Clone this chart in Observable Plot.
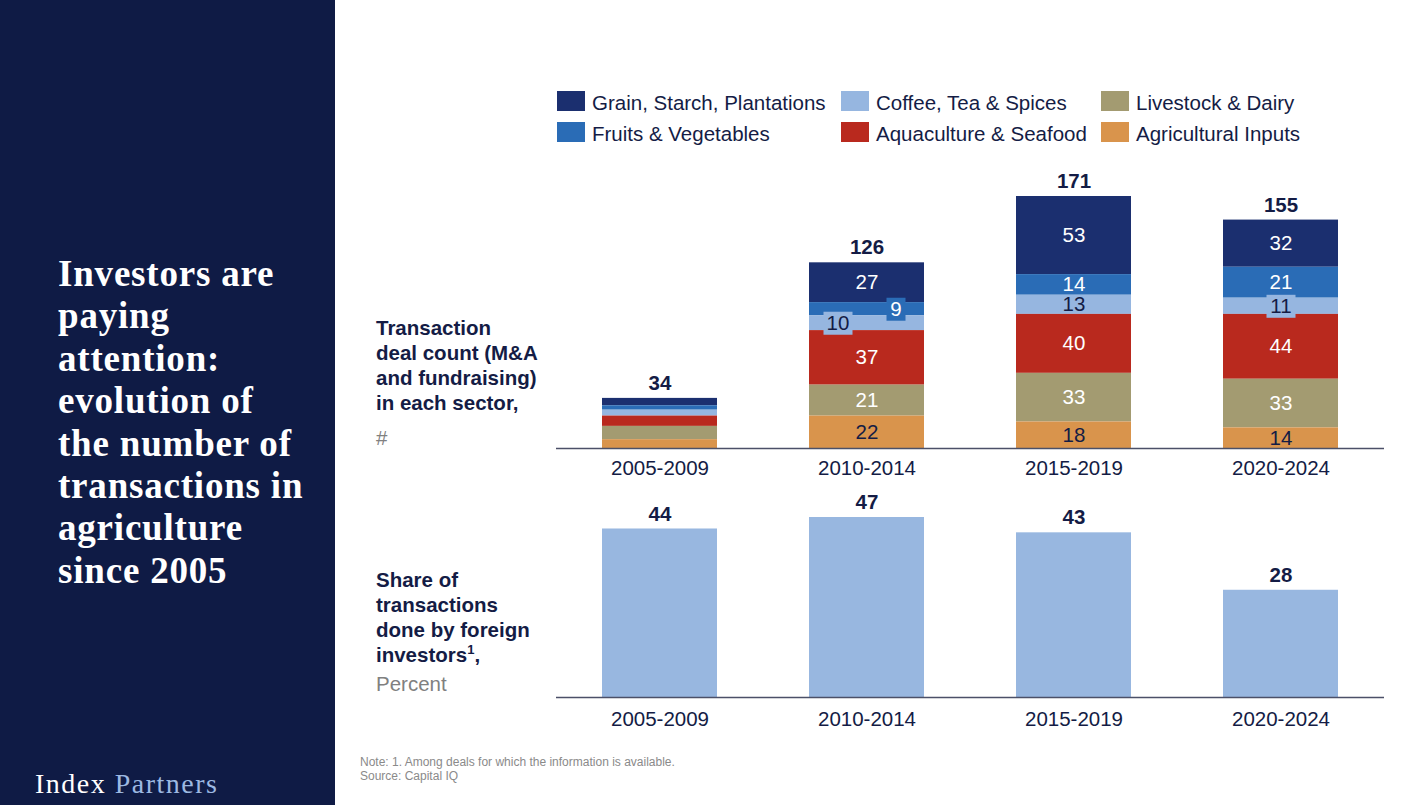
<!DOCTYPE html>
<html>
<head>
<meta charset="utf-8">
<script src="https://cdn.jsdelivr.net/npm/d3@7"></script>
<script src="https://cdn.jsdelivr.net/npm/@observablehq/plot@0.6"></script>
<style>
  html, body { margin: 0; padding: 0; }
  body {
    width: 1428px; height: 805px; position: relative; overflow: hidden; background: #fff;
    font-family: "Liberation Sans", Arial, sans-serif; color: #141c45;
  }
  #panel { position: absolute; left: 0; top: 0; width: 335px; height: 805px; background: #0f1b45; }
  #title {
    position: absolute; left: 58px; top: 253px; margin: 0; white-space: nowrap;
    font-family: "Liberation Serif", serif; font-weight: 700; font-size: 37px;
    line-height: 42.4px; letter-spacing: 0.8px; color: #fff;
  }
  #brand {
    position: absolute; left: 35px; top: 769px; white-space: nowrap;
    font-family: "Liberation Serif", serif; font-size: 28px; line-height: 30px;
    letter-spacing: 1.5px; color: #fff;
  }
  #brand span { color: #9db9e2; }
  .side { position: absolute; left: 376px; font-size: 20.5px; line-height: 25px; font-weight: 700; white-space: nowrap; }
  .side .unit { font-weight: 400; color: #808080; }
  .side sup { font-size: 13px; line-height: 0; vertical-align: 8px; }
  .legend-item { position: absolute; height: 20px; white-space: nowrap; }
  .legend-item .sw { position: absolute; left: 0; top: 0; width: 28px; height: 20px; }
  .legend-item .lb { position: absolute; left: 35px; top: 0px; font-size: 20.5px; line-height: 24px; }
  .chart { position: absolute; left: 556px; }
  #note { position: absolute; left: 360px; top: 755px; font-size: 12px; line-height: 14px; color: #8a8a8a; white-space: nowrap; }
</style>
</head>
<body>
<div id="panel"></div>
<h1 id="title">Investors are<br>paying<br>attention:<br>evolution of<br>the number of<br>transactions in<br>agriculture<br>since 2005</h1>
<div id="brand">Index <span>Partners</span></div>

<div id="legend"></div>

<div class="side" style="top:315px">Transaction<br>deal count (M&amp;A<br>and fundraising)<br>in each sector,<div class="unit" style="margin-top:10px">#</div></div>
<div class="side" style="top:567px">Share of<br>transactions<br>done by foreign<br>investors<sup>1</sup>,<div class="unit" style="margin-top:4px">Percent</div></div>

<div id="deals" class="chart" style="top:160px"></div>
<div id="foreign" class="chart" style="top:487px"></div>

<div id="note">Note: 1. Among deals for which the information is available.<br>Source: Capital IQ</div>

<script>
// Periods and sectors
const periods = ["2005-2009", "2010-2014", "2015-2019", "2020-2024"];
const sectors = [
  "Grain, Starch, Plantations",
  "Fruits & Vegetables",
  "Coffee, Tea & Spices",
  "Aquaculture & Seafood",
  "Livestock & Dairy",
  "Agricultural Inputs"
];

// Deal counts per sector, one value per period
const grain     = [5, 27, 53, 32];
const fruits    = [3, 9, 14, 21];
const coffee    = [4, 10, 13, 11];
const aqua      = [7, 37, 40, 44];
const livestock = [9, 21, 33, 33];
const inputs    = [6, 22, 18, 14];

// Share of transactions done by foreign investors, percent
const foreignShare = [44, 47, 43, 28];

const sectorValues = [grain, fruits, coffee, aqua, livestock, inputs];
const sectorColors = ["#1b2f6f", "#2a6cb6", "#96b6e0", "#b9291e", "#a39b71", "#d9944c"];
const darkText = "#141c45";
const darkLabelSectors = new Set(["Coffee, Tea & Spices", "Agricultural Inputs"]);
const unlabelledPeriods = new Set(["2005-2009"]);

// Legend, filled column by column
const legend = document.getElementById("legend");
const legendCols = [557, 841, 1101], legendRows = [91, 122];
sectors.forEach((s, i) => {
  const item = document.createElement("div");
  item.className = "legend-item";
  item.style.left = legendCols[Math.floor(i / 2)] + "px";
  item.style.top = legendRows[i % 2] + "px";
  item.innerHTML = `<div class="sw" style="background:${sectorColors[i]}"></div><div class="lb"></div>`;
  item.querySelector(".lb").textContent = s;
  legend.appendChild(item);
});

// Long table for the stacked bars
const rows = [];
sectors.forEach((s, si) => periods.forEach((p, pi) => rows.push({period: p, sector: s, value: sectorValues[si][pi]})));
const stackOrder = sectors.slice().reverse(); // bottom of the stack first
const totals = periods.map((p, pi) => ({period: p, total: d3.sum(sectorValues, v => v[pi])}));

// Segment midpoints for the in-bar labels
const segs = [];
periods.forEach((p, pi) => {
  let base = 0;
  stackOrder.forEach(s => {
    const v = sectorValues[sectors.indexOf(s)][pi];
    segs.push({period: p, sector: s, value: v, mid: base + v / 2});
    base += v;
  });
});

// Small segments whose labels sit on a tag of the segment colour
const callouts = [
  {period: "2010-2014", sector: "Coffee, Tea & Spices", dx: -29},
  {period: "2010-2014", sector: "Fruits & Vegetables", dx: 29},
  {period: "2020-2024", sector: "Coffee, Tea & Spices", dx: 0}
];
const isCallout = d => callouts.some(c => c.period === d.period && c.sector === d.sector);
const plain = segs.filter(d => !unlabelledPeriods.has(d.period) && !isCallout(d));

const tag = (w, h) => ({draw(ctx) { ctx.rect(-w / 2, -h / 2, w, h); }});

const font = {fontFamily: "Liberation Sans, Arial, sans-serif", fontSize: 20.5};
const xScale = {domain: periods, paddingInner: 0.444, paddingOuter: 0.222};
const axisColor = "#4b5068";

const calloutMarks = callouts.flatMap(c => {
  const d = segs.filter(s => s.period === c.period && s.sector === c.sector);
  const label = String(d[0].value);
  const col = sectorColors[sectors.indexOf(c.sector)];
  const txt = darkLabelSectors.has(c.sector) ? darkText : "#fff";
  return [
    Plot.dot(d, {x: "period", y: "mid", dx: c.dx, symbol: tag(label.length * 10 + 9, 23), fill: col}),
    Plot.text(d, {x: "period", y: "mid", dx: c.dx, text: "value", fill: txt, ...font})
  ];
});

const deals = Plot.plot({
  width: 828, height: 320,
  marginTop: 36, marginBottom: 32, marginLeft: 0, marginRight: 0,
  style: {fontFamily: font.fontFamily, fontSize: "20.5px", color: darkText, background: "transparent", overflow: "visible"},
  x: {...xScale, axis: null},
  y: {domain: [0, d3.max(totals, d => d.total)], axis: null},
  color: {domain: sectors, range: sectorColors},
  marks: [
    Plot.barY(rows, Plot.stackY({x: "period", y: "value", fill: "sector", order: stackOrder})),
    Plot.text(plain.filter(d => !darkLabelSectors.has(d.sector)), {x: "period", y: "mid", text: "value", fill: "#fff", ...font}),
    Plot.text(plain.filter(d => darkLabelSectors.has(d.sector)), {x: "period", y: "mid", text: "value", fill: darkText, ...font}),
    ...calloutMarks,
    Plot.text(totals, {x: "period", y: "total", text: "total", dy: -15, fontWeight: "bold", fill: darkText, ...font}),
    Plot.ruleY([0], {stroke: axisColor, strokeWidth: 1.7}),
    Plot.axisX({tickSize: 0, tickPadding: 12, label: null, fontSize: 20.5, fill: darkText})
  ]
});
document.getElementById("deals").appendChild(deals);

const shareRows = periods.map((p, i) => ({period: p, share: foreignShare[i]}));
const foreign = Plot.plot({
  width: 828, height: 242,
  marginTop: 30, marginBottom: 32, marginLeft: 0, marginRight: 0,
  style: {fontFamily: font.fontFamily, fontSize: "20.5px", color: darkText, background: "transparent", overflow: "visible"},
  x: {...xScale, axis: null},
  y: {domain: [0, d3.max(foreignShare)], axis: null},
  marks: [
    Plot.barY(shareRows, {x: "period", y: "share", fill: "#98b7e0"}),
    Plot.text(shareRows, {x: "period", y: "share", text: "share", dy: -15, fontWeight: "bold", fill: darkText, ...font}),
    Plot.ruleY([0], {stroke: axisColor, strokeWidth: 1.7}),
    Plot.axisX({tickSize: 0, tickPadding: 14, label: null, fontSize: 20.5, fill: darkText})
  ]
});
document.getElementById("foreign").appendChild(foreign);
</script>
</body>
</html>
